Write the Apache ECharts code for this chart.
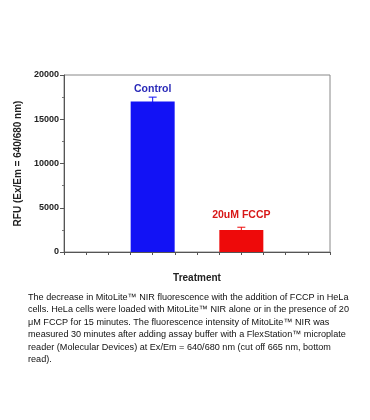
<!DOCTYPE html>
<html>
<head>
<meta charset="utf-8">
<script src="https://cdn.jsdelivr.net/npm/echarts@6/dist/echarts.min.js"></script>
<style>
html,body{margin:0;padding:0;background:#fff;}
#c{width:370px;height:420px;}
</style>
</head>
<body>
<div id="c"></div>
<script>
const categories = ['Control', '20uM FCCP'];
const positions = [1, 2];
const values = [17000, 2500];
const errors = [500, 300];
const barColors = ['#1212f5', '#ee0a0a'];
const labelColors = ['#2a2ab8', '#d81818'];
const yTicks = [0, 5000, 10000, 15000, 20000];
const captionLines = [
  'The decrease in MitoLite\u2122 NIR fluorescence with the addition of FCCP in HeLa',
  'cells. HeLa cells were loaded with MitoLite\u2122 NIR alone or in the presence of 20',
  '\u03bcM FCCP for 15 minutes. The fluorescence intensity of MitoLite\u2122 NIR was',
  'measured 30 minutes after adding assay buffer with a FlexStation\u2122 microplate',
  'reader (Molecular Devices) at Ex/Em = 640/680 nm (cut off 665 nm, bottom',
  'read).'
];

const FONT = '"Liberation Sans", Arial, sans-serif';
const chart = echarts.init(document.getElementById('c'), null, {renderer: 'canvas'});

const barData = positions.map((p, i) => ({
  value: [p, values[i]],
  itemStyle: {color: barColors[i]},
  label: {
    show: true, position: 'top', distance: i === 0 ? 7 : 9,
    formatter: categories[i], color: labelColors[i],
    fontWeight: 'bold', fontSize: 10.5, fontFamily: FONT
  }
}));

const errData = positions.map((p, i) => [p, values[i] - errors[i], values[i] + errors[i], i]);

const graphics = captionLines.map((t, i) => ({
  type: 'text', left: 28, top: 293 + i * 12.4,
  style: {text: t, font: '9.1px ' + FONT, fill: '#111'}
}));

chart.setOption({
  animation: false,
  grid: {left: 64, right: 40, top: 75, bottom: 168, show: true, borderColor: '#888', borderWidth: 1},
  xAxis: {
    type: 'value', min: 0, max: 3, interval: 0.25,
    name: 'Treatment', nameLocation: 'middle', nameGap: 21,
    nameTextStyle: {fontWeight: 'bold', fontSize: 10, fontFamily: FONT, color: '#222'},
    axisLine: {lineStyle: {color: '#555'}},
    axisTick: {show: true, inside: false, length: 3, lineStyle: {color: '#555'}},
    axisLabel: {show: false},
    splitLine: {show: false}
  },
  yAxis: {
    type: 'value', min: 0, max: 20000, interval: 5000,
    name: 'RFU (Ex/Em = 640/680 nm)', nameLocation: 'middle', nameGap: 41,
    nameTextStyle: {fontWeight: 'bold', fontSize: 10, fontFamily: FONT, color: '#222'},
    axisLine: {show: true, lineStyle: {color: '#555'}},
    axisTick: {show: true, inside: false, length: 4, lineStyle: {color: '#555'}},
    minorTick: {show: true, splitNumber: 2, length: 2, lineStyle: {color: '#777'}},
    axisLabel: {
      fontWeight: 'bold', fontSize: 9, fontFamily: FONT, color: '#222', margin: 5,
      formatter: v => yTicks.includes(v) ? String(v) : ''
    },
    splitLine: {show: false}
  },
  graphic: graphics,
  series: [
    {
      type: 'bar', data: barData, barWidth: 44, z: 2
    },
    {
      type: 'custom', z: 3,
      data: errData,
      renderItem: function (params, api) {
        const x = api.value(0);
        const lo = api.coord([x, api.value(1)]);
        const hi = api.coord([x, api.value(2)]);
        const color = barColors[api.value(3)];
        const hw = 4;
        return {
          type: 'group',
          children: [
            {type: 'line', shape: {x1: lo[0], y1: lo[1], x2: hi[0], y2: hi[1]}, style: {stroke: color, lineWidth: 1}},
            {type: 'line', shape: {x1: hi[0] - hw, y1: hi[1], x2: hi[0] + hw, y2: hi[1]}, style: {stroke: color, lineWidth: 1}}
          ]
        };
      }
    }
  ]
});
</script>
</body>
</html>
